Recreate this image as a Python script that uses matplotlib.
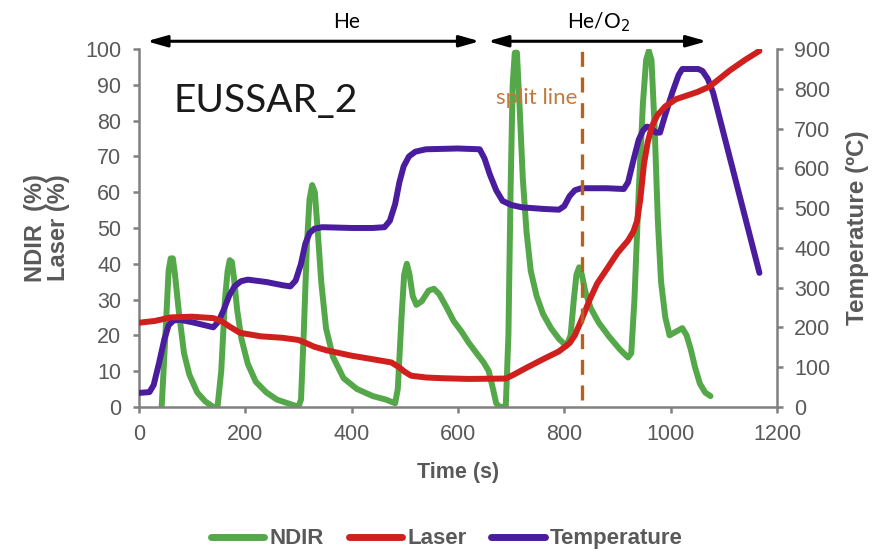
import matplotlib
matplotlib.use("Agg")
import matplotlib.pyplot as plt

# NDIR signal (%) vs time (s)
ndir_t = [43, 50, 56, 60, 64, 68, 75, 85, 95, 110, 125, 140,
          148, 155, 162, 167, 171, 175, 179, 185, 193, 205, 220, 240, 260, 280, 300,
          305, 310, 316, 321, 326, 331, 336, 343, 352, 365, 385, 410, 440, 465, 482,
          487, 494, 499, 504, 509, 515, 522, 532, 545, 555, 565, 578, 592, 607,
          620, 635, 648, 658, 666, 672, 678, 690,
          695, 699, 703, 707, 711, 716, 722, 729, 737, 748, 760, 775, 790, 804,
          812, 818, 823, 828, 833, 840, 850, 865, 885, 905, 920,
          926, 932, 940, 948, 954, 959, 964, 970, 976, 982, 990, 998,
          1010, 1022, 1030, 1038, 1046, 1055, 1065, 1075]
ndir_v = [0, 20, 38, 41.5, 41.5, 37, 27, 15, 9, 4, 1.5, 0,
          0, 10, 30, 38, 41, 40.5, 36, 27, 19, 12, 7, 4, 2, 1, 0,
          2, 20, 45, 58, 62, 60, 50, 35, 22, 14, 8, 5, 3, 2, 1,
          5, 25, 37, 40, 37, 31, 28.5, 29.5, 32.5, 33, 31.5, 28, 24, 21,
          18, 15, 12.5, 10, 5, 1, 0, 0,
          20, 60, 90, 99, 99, 84, 64, 49, 38, 31, 26, 22, 19, 17,
          20, 30, 37, 39, 37, 32, 27.5, 23.5, 19.5, 16, 13.8,
          15, 30, 60, 85, 97, 99.5, 97, 78, 52, 35, 25, 20,
          21, 22, 20, 16, 11, 6.5, 4, 3]

# Laser signal (%) vs time (s)
laser_t = [0, 30, 60, 100, 140, 155, 170, 190, 230, 270, 300, 315, 330, 353, 400,
           440, 475, 490, 500, 512, 540, 570, 620, 690, 705, 730, 760, 790, 810,
           820, 833, 848, 862, 880, 900, 920, 930, 937, 943, 950, 957, 965, 975,
           990, 1010, 1030, 1050, 1073, 1090, 1111, 1140, 1167]
laser_v = [23.5, 24, 25, 25.2, 24.8, 24, 22.5, 20.7, 19.7, 19.3, 18.7, 17.8, 16.8, 15.8, 14.3,
           13.3, 12.4, 11, 9.8, 8.7, 8.2, 8, 7.8, 7.9, 9, 11, 13.3, 15.5, 17.8,
           20, 24.5, 30, 34.5, 38.5, 43, 46.5, 49, 52, 58, 68, 74, 78.5, 81.5,
           84, 86, 87, 88, 89.5, 91.5, 94, 97, 99.5]

# Temperature (°C) vs time (s)
temp_t = [0, 20, 28, 38, 48, 56, 65, 77, 100, 125, 140, 150, 160, 170, 180, 192, 205,
          240, 270, 285, 295, 305, 313, 321, 330, 345, 400, 440, 462, 472, 482, 490,
          498, 508, 520, 540, 600, 641, 650, 660, 672, 684, 700, 720, 760, 790,
          800, 810, 820, 832, 880, 912, 920, 930, 940, 948, 955, 962, 972, 980,
          990, 1003, 1015, 1022, 1035, 1052, 1060, 1070, 1080, 1167]
temp_v = [35, 37, 55, 110, 170, 205, 217, 219, 213, 205, 200, 215, 245, 280, 303, 316, 320,
          314, 306, 303, 318, 360, 410, 437, 448, 452, 450, 450, 452, 468, 510, 565,
          605, 630, 642, 648, 650, 648, 625, 585, 545, 518, 508, 502, 498, 496,
          505, 530, 545, 550, 550, 548, 565, 620, 672, 695, 705, 703, 690, 690,
          735, 790, 835, 850, 850, 850, 845, 825, 790, 337]

split_t = 833

GREEN = "#55a84a"
RED = "#d0201e"
PURPLE = "#4a1d9e"
GREY = "#808080"
TXT = "#595959"

plt.rcParams["font.family"] = ["Liberation Sans", "DejaVu Sans"]

fig = plt.figure(figsize=(8.73, 5.52), dpi=100)
ax = fig.add_axes([0.159, 0.263, 0.731, 0.648])
ax2 = ax.twinx()

lw = 4.3
style = dict(lw=lw, solid_joinstyle="round", solid_capstyle="round")
l1, = ax.plot(ndir_t, ndir_v, color=GREEN, label="NDIR", zorder=2, **style)
l3, = ax2.plot(temp_t, temp_v, color=PURPLE, label="Temperature", zorder=3, **style)
# laser lives on the left scale but is drawn above the temperature curve
l2, = ax2.plot(laser_t, laser_v, color=RED, label="Laser", zorder=4,
               transform=ax.transData, **style)

ax2.plot([split_t, split_t], [2, 100], color="#b5621e", lw=2.4,
         dashes=(4.5, 3.2), zorder=5, transform=ax.transData)
ax2.text(749, 86.3, "split line", color="#c27b3f", fontsize=16, family="Lato",
         ha="center", va="center", zorder=6, transform=ax.transData)
ax.text(65, 85.5, "EUSSAR_2", fontsize=28, family="Lato", color="#1a1a1a",
        ha="left", va="center")

ax.set_xlim(0, 1200)
ax.set_ylim(0, 100)
ax2.set_ylim(0, 900)
ax.set_xticks(range(0, 1201, 200))
ax.set_yticks(range(0, 101, 10))
ax2.set_yticks(range(0, 901, 100))

for a in (ax, ax2):
    a.spines["top"].set_visible(False)
    for s in ("left", "right", "bottom"):
        a.spines[s].set_color(GREY)
        a.spines[s].set_linewidth(1.8)
    a.tick_params(colors=GREY, labelcolor=TXT, width=1.8, length=4.5,
                  labelsize=15.5, pad=8)
ax.spines["right"].set_visible(False)
ax2.spines["left"].set_visible(False)
ax2.spines["bottom"].set_visible(False)

ax.set_xlabel("Time (s)", fontsize=15.5, fontweight="bold", color=TXT)
ax.xaxis.set_label_coords(0.5, -0.155)
ax.set_ylabel("NDIR  (%)\nLaser (%)", fontsize=17, fontweight="bold", color=TXT,
              linespacing=1.0)
ax.yaxis.set_label_coords(-0.108, 0.5)
ax2.set_ylabel("Temperature (ºC)", fontsize=17.5, fontweight="bold", color=TXT)
ax2.yaxis.set_label_coords(1.108, 0.5)

# gas phase arrows above the plot
arrow = dict(arrowstyle="<|-|>,head_length=0.6,head_width=0.17", color="black",
             lw=2.2, mutation_scale=20, shrinkA=0, shrinkB=0)
ax.annotate("", xy=(15, 102.2), xytext=(641, 102.2), arrowprops=arrow,
            annotation_clip=False)
ax.annotate("", xy=(656, 102.2), xytext=(1068, 102.2), arrowprops=arrow,
            annotation_clip=False)
ax.text(391, 107.5, "He", fontsize=15, family="Lato", ha="center", va="center",
        clip_on=False)
ax.text(865, 107.5, "He/O$_2$", fontsize=15, family="Lato", ha="center",
        va="center", clip_on=False)

leg = fig.legend([l1, l2, l3], ["NDIR", "Laser", "Temperature"], loc="center",
                 bbox_to_anchor=(0.512, 0.0236), ncol=3, frameon=False,
                 handlelength=2.4, handletextpad=0.25, columnspacing=1.1,
                 prop={"size": 16, "weight": "bold"})
for t in leg.get_texts():
    t.set_color(TXT)
for h in leg.get_lines():
    h.set_linewidth(5)
    h.set_solid_capstyle("round")

fig.savefig("out.png", dpi=100)
